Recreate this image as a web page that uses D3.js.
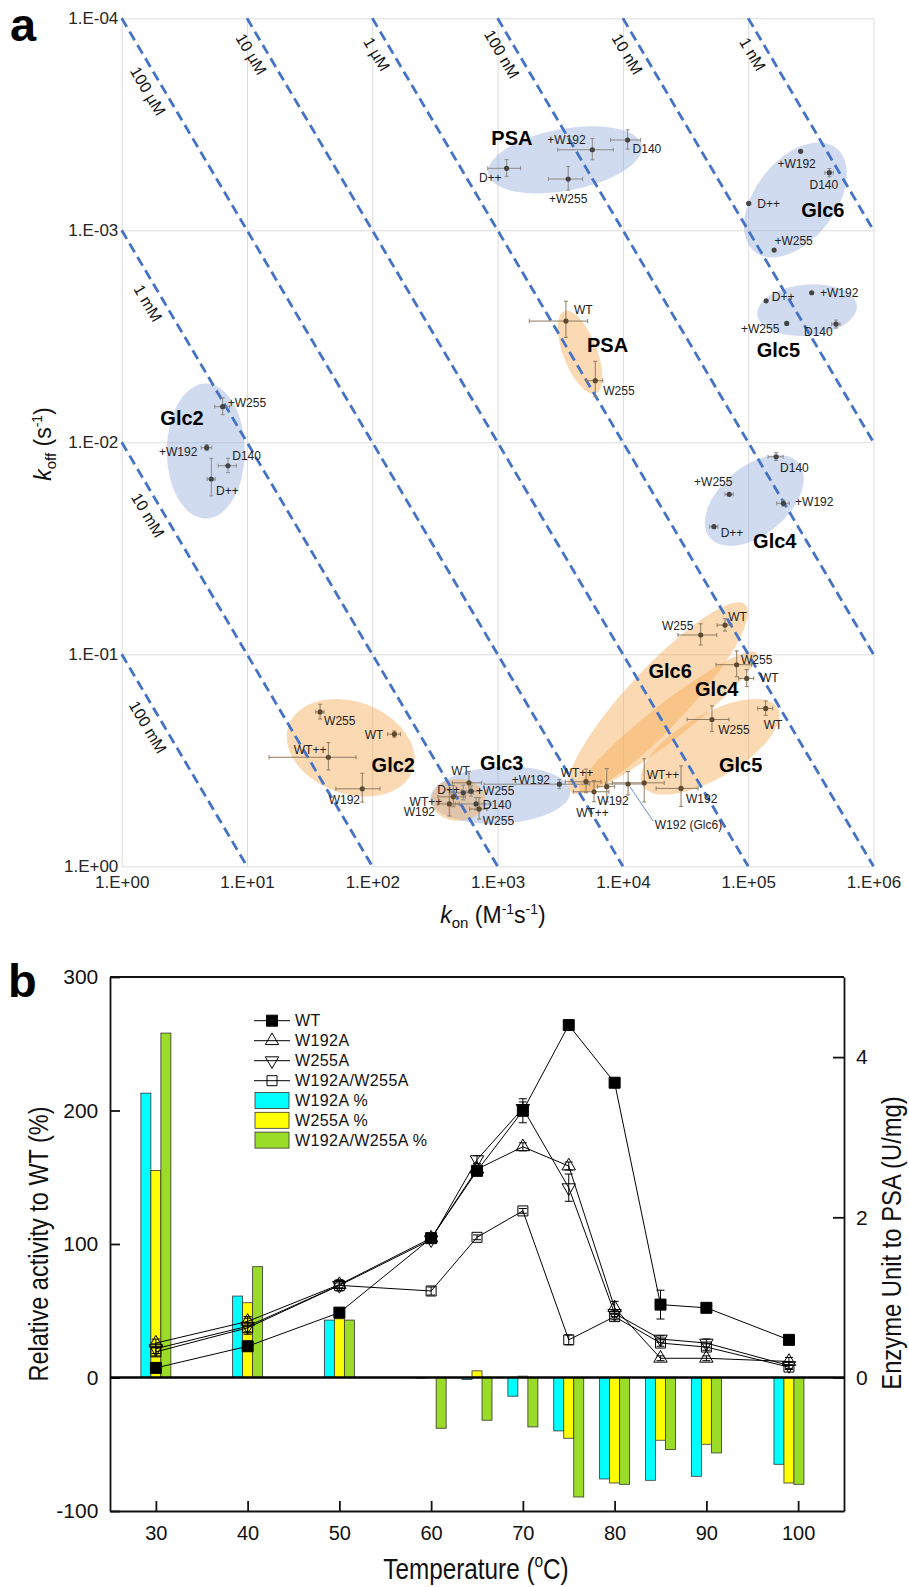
<!DOCTYPE html>
<html>
<head>
<meta charset="utf-8">
<script src="https://cdn.jsdelivr.net/npm/d3@7"></script>
<style>
  body { margin: 0; background: #fff; }
  svg { display: block; font-family: "Liberation Sans", Arial, Helvetica, sans-serif; }
</style>
</head>
<body>
<div id="main"></div>
<script>
/* ================= panel a : kon / koff map ================= */
const konTicks  = [1, 1e1, 1e2, 1e3, 1e4, 1e5, 1e6];
const koffTicks = [1e-4, 1e-3, 1e-2, 1e-1, 1];
const kdValues  = [1e-1, 1e-2, 1e-3, 1e-4, 1e-5, 1e-6, 1e-7, 1e-8, 1e-9];
const kdLabels  = ["100 mM", "10 mM", "1 mM", "100 µM", "10 µM", "1 µM", "100 nM", "10 nM", "1 nM"];

// b = with ligand (blue), o = free enzyme (orange)
const ptSet = ["b","b","b","b","b","b","b","b","b","b","b","b","b","b","b","b","b","b","b","b","b","b","b","b",
               "o","o","o","o","o","o","o","o","o","o","o","o","o","o","o","o","o","o","o","o","o","o"];
const ptLabel = ["D++","+W192","D140","+W255", "+W192","D140","D++","+W255", "D++","+W192","+W255","D140",
                 "D140","+W255","+W192","D++", "+W255","+W192","D140","D++", "D++","+W255","D140","+W192",
                 "WT","W255", "W255","WT","WT++","W192", "WT","WT++","W192","W255",
                 "WT","W255","WT++","W192 (Glc6)", "WT","W255","WT++","W192", "WT","W255","WT++","W192"];
const kon = [1180, 5700, 10900, 3660, 2.62e5, 4.44e5, 1.01e5, 1.61e5, 1.39e5, 3.21e5, 2.03e5, 5.02e5,
             1.67e5, 7.06e4, 1.91e5, 5.33e4, 6.40, 4.77, 7.05, 5.19, 532, 614, 673, 3110,
             3510, 6020, 38.3, 150, 44.6, 83.2, 591, 443, 412, 711,
             6.53e4, 4.18e4, 5080, 1.10e4, 9.73e4, 8.09e4, 5880, 7430, 1.38e5, 5.14e4, 1.48e4, 2.91e4];
const koff = [5.10e-4, 4.17e-4, 3.75e-4, 5.73e-4, 4.24e-4, 5.35e-4, 7.47e-4, 1.24e-3, 2.15e-3, 1.97e-3, 2.75e-3, 2.77e-3,
              1.17e-2, 1.76e-2, 1.94e-2, 2.50e-2, 6.79e-3, 1.06e-2, 1.29e-2, 1.49e-2, 0.450, 0.442, 0.508, 0.410,
              2.68e-3, 5.12e-3, 0.187, 0.238, 0.306, 0.431, 0.404, 0.470, 0.508, 0.537,
              7.28e-2, 8.11e-2, 0.399, 0.409, 0.130, 0.112, 0.445, 0.421, 0.180, 0.203, 0.404, 0.429];
const konErr = [346, 2680, 2940, 1120, 0, 3.4e4, 0, 0, 0, 0, 0, 3.8e4,
                2.3e4, 5400, 2.2e4, 4000, 0.88, 0.46, 1.16, 0.39, 106, 102, 213, 2330,
                1720, 890, 2.9, 17.6, 29.6, 32, 155, 109, 82, 112,
                8900, 1.43e4, 1610, 3760, 1.33e4, 2.56e4, 1860, 1170, 1.89e4, 1.89e4, 6570, 1.07e4];
const koffErr = [4.6e-5, 4.8e-5, 3.9e-5, 7.3e-5, 0, 2.4e-5, 0, 0, 0, 0, 0, 1.2e-4,
                 5e-4, 0, 6.4e-4, 0, 6.2e-4, 3.5e-4, 1.0e-3, 3.0e-3, 0.036, 0.025, 0.034, 0.02,
                 5.2e-4, 9.7e-4, 0.015, 0.008, 0.045, 0.067, 0.046, 0.054, 0.071, 0.062,
                 4.9e-3, 9.3e-3, 0.051, 0.052, 0.012, 0.0156, 0.051, 0.075, 0.014, 0.028, 0.093, 0.093];

// where each point label sits: anchor, dx, dy(baseline)
const ptLabelPos = [
  ["end",-5,13.3],["end",-6.6,-5.9],["start",5,12.6],["middle",0,24],
  ["middle",-4,17],["middle",-5.5,16.6],["start",8.6,4.8],["start",0.3,-5],
  ["start",5.7,0.3],["start",8.3,4.6],["end",-7.4,9.3],["end",-3.3,12],
  ["start",4,15.6],["middle",-16,-8],["start",11.7,2.3],["start",6.7,10.1],
  ["start",5,0.6],["end",-9.4,8],["start",4.3,-5.4],["start",4.7,16.3],
  ["end",-3.3,1],["start",5,4.3],["start",6.7,5.3],["end",-9.3,0],
  ["start",8,-7],["start",8,14.4],
  ["start",4,13.4],["end",-11,5],["middle",-18.3,-3.3],["end",-2.3,15],
  ["middle",-8.5,-8.1],["end",-11,9.5],["end",-14.3,12.5],["start",3.7,15.8],
  ["start",3.3,-3.7],["end",-7.4,-5.4],["middle",-9,-4.6],["start",26.7,45.3],
  ["start",13.3,3.7],["start",4.3,-1],["middle",-1.5,25.5],["middle",6.3,18.5],
  ["middle",7.3,20.7],["start",6.3,14.7],["start",2.4,-3.7],["start",5,14.7]
];

// shaded groups: set, centre kon, centre koff, rx, ry, angle
const regions = [
  ["b", 3.45e3, 4.65e-4, 78, 31, -10.5],
  ["b", 2.38e5, 7.19e-4, 66, 40, -52],
  ["b", 2.95e5, 2.38e-3, 50, 25.5, -5],
  ["b", 1.12e5, 1.88e-2, 58, 34, -40],
  ["b", 4.69, 1.10e-2, 39, 67.5, 0],
  ["b", 1.05e3, 0.462, 70, 28.5, -3],
  ["o", 4.55e3, 3.76e-3, 44, 17, 69],
  ["o", 67.2, 0.276, 66, 46, 20],
  ["o", 486, 0.486, 27, 21, 0],
  ["o", 1.91e4, 0.161, 128, 30, -47],
  ["o", 2.29e4, 0.208, 112, 18, -38],
  ["o", 4.96e4, 0.273, 78, 32, -30]
];
const groupNames = [
  ["PSA", 1.30e3, 3.94e-4], ["Glc6", 3.94e5, 8.65e-4], ["Glc5", 1.74e5, 3.96e-3],
  ["Glc4", 1.63e5, 3.16e-2], ["Glc2", 3.03, 8.28e-3], ["Glc3", 1.08e3, 0.353],
  ["PSA", 7.54e3, 3.75e-3], ["Glc2", 147, 0.359], ["Glc6", 2.38e4, 0.130],
  ["Glc4", 5.61e4, 0.158], ["Glc5", 8.71e4, 0.359]
];

/* ================= panel b : temperature profile ================= */
const temps = [30, 40, 50, 60, 65, 70, 75, 80, 85, 90, 99];
const tempTicks = [30, 40, 50, 60, 70, 80, 90, 100];
const pctTicks = [-100, 0, 100, 200, 300];
const unitTicks = [0, 2, 4];
// enzyme units (U/mg), right axis
const uWT     = [0.12, 0.39, 0.81, 1.74, 2.58, 3.33, 4.40, 3.68, 0.91, 0.87, 0.47];
const uW192A  = [0.43, 0.70, 1.16, 1.74, 2.60, 2.88, 2.64, 0.87, 0.24, 0.24, 0.20];
const uW255A  = [0.36, 0.64, 1.15, 1.72, 2.72, 3.36, 2.37, 0.80, 0.48, 0.43, 0.15];
const uDouble = [0.32, 0.62, 1.15, 1.08, 1.75, 2.08, 0.47, 0.76, 0.43, 0.38, 0.13];
const eWT     = [0.04, 0.05, 0.03, 0.03, 0.05, 0.15, 0.02, 0.02, 0.18, 0.03, 0.03];
const eW192A  = [0.05, 0.06, 0.05, 0.03, 0.05, 0.05, 0.05, 0.08, 0.03, 0.03, 0.05];
const eW255A  = [0.06, 0.10, 0.07, 0.04, 0.05, 0.08, 0.17, 0.04, 0.04, 0.05, 0.04];
const eDouble = [0.05, 0.05, 0.03, 0.05, 0.03, 0.03, 0.06, 0.04, 0.04, 0.04, 0.03];
// relative activity to WT (%), left axis
const pctW192A  = [213, 61, 43, -0.5, -1.5, -14, -40, -76, -77, -74, -65];
const pctW255A  = [155, 56, 44, 0, 5, 1, -45.5, -79, -47, -50, -79];
const pctDouble = [258, 83, 43, -38, -32, -37, -89.5, -80, -54, -56.5, -80];
const lineNames = ["WT", "W192A", "W255A", "W192A/W255A"];
const barNames  = ["W192A %", "W255A %", "W192A/W255A %"];

const FONT = '"Liberation Sans", Arial, Helvetica, sans-serif';
const svg = d3.select("#main").append("svg").attr("width", 909).attr("height", 1587);

/* ---------------- panel a ---------------- */
const ax = d3.scaleLog().domain([1, 1e6]).range([121.7, 873.5]);
const ay = d3.scaleLog().domain([1e-4, 1]).range([18.3, 866.3]);
const ga = svg.append("g");
const fmtE = v => {
  const e = Math.round(Math.log10(v));
  return "1.E" + (e < 0 ? "-" : "+") + String(Math.abs(e)).padStart(2, "0");
};

const gX = ga.append("g").attr("transform", "translate(0," + ay.range()[1] + ")")
  .call(d3.axisBottom(ax).tickValues(konTicks).tickFormat(fmtE)
    .tickSize(-(ay.range()[1] - ay.range()[0])).tickPadding(9.5));
const gY = ga.append("g").attr("transform", "translate(" + ax.range()[0] + ",0)")
  .call(d3.axisLeft(ay).tickValues(koffTicks).tickFormat(fmtE)
    .tickSize(-(ax.range()[1] - ax.range()[0])).tickPadding(3.4));
[gX, gY].forEach(g => {
  g.select(".domain").remove();
  g.attr("font-size", 17).attr("font-family", FONT);
  g.selectAll("line").attr("stroke", "#dcdcdc");
  g.selectAll("text").attr("fill", "#262626");
});

// shaded groups
const fillOf = s => s === "b" ? "rgba(143,170,220,0.42)" : "rgba(247,170,85,0.45)";
ga.append("g").selectAll("ellipse").data(regions).join("ellipse")
  .attr("cx", d => ax(d[1])).attr("cy", d => ay(d[2]))
  .attr("rx", d => d[3]).attr("ry", d => d[4])
  .attr("transform", d => "rotate(" + d[5] + "," + ax(d[1]) + "," + ay(d[2]) + ")")
  .attr("fill", d => fillOf(d[0]));

// iso-affinity lines koff = KD * kon
const kd = kdValues.map((K, i) => {
  const k0 = Math.max(1, 1e-4 / K), k1 = Math.min(1e6, 1 / K);
  const x0 = ax(k0), y0 = ay(K * k0), x1 = ax(k1), y1 = ay(K * k1);
  return { K, label: kdLabels[i], x0, y0, x1, y1, fromLeft: k0 === 1 };
});
ga.append("g").selectAll("line").data(kd).join("line")
  .attr("x1", d => d.x0).attr("y1", d => d.y0).attr("x2", d => d.x1).attr("y2", d => d.y1)
  .attr("stroke", "#4472C4").attr("stroke-width", 2.8).attr("stroke-dasharray", "10,5.5");
ga.append("g").selectAll("text").data(kd).join("text")
  .attr("transform", d => {
    const a = Math.atan2(d.y1 - d.y0, d.x1 - d.x0);
    const along = d.fromLeft ? 76 : 33, perp = 14.5;
    const px = d.x0 + along * Math.cos(a) - perp * Math.sin(a);
    const py = d.y0 + along * Math.sin(a) + perp * Math.cos(a);
    return "translate(" + px + "," + py + ") rotate(" + (a * 180 / Math.PI) + ")";
  })
  .attr("text-anchor", "middle").attr("dy", "0.35em").attr("font-size", 16).attr("fill", "#111")
  .text(d => d.label);

// error bars and points
const pts = kon.map((k, i) => ({
  k, f: koff[i], ke: konErr[i], fe: koffErr[i], set: ptSet[i], label: ptLabel[i], pos: ptLabelPos[i]
}));
const eb = ga.append("g").attr("stroke-width", 1);
pts.forEach(p => {
  const col = p.set === "b" ? "#8a8a8a" : "#8f7c62";
  const cx = ax(p.k), cy = ay(p.f);
  if (p.ke > 0) {
    const xa = ax(Math.max(p.k - p.ke, 1e-3)), xb = ax(p.k + p.ke);
    eb.append("line").attr("x1", xa).attr("x2", xb).attr("y1", cy).attr("y2", cy).attr("stroke", col);
    [xa, xb].forEach(x => eb.append("line").attr("x1", x).attr("x2", x).attr("y1", cy - 2).attr("y2", cy + 2).attr("stroke", col));
  }
  if (p.fe > 0) {
    const ya = ay(Math.max(p.f - p.fe, 1e-9)), yb = ay(p.f + p.fe);
    eb.append("line").attr("x1", cx).attr("x2", cx).attr("y1", ya).attr("y2", yb).attr("stroke", col);
    [ya, yb].forEach(y => eb.append("line").attr("x1", cx - 2).attr("x2", cx + 2).attr("y1", y).attr("y2", y).attr("stroke", col));
  }
});
// leader for the W192 (Glc6) label
pts.filter(p => p.label.indexOf("(") > 0).forEach(p => {
  ga.append("line").attr("x1", ax(p.k) + 2).attr("y1", ay(p.f) + 3)
    .attr("x2", ax(p.k) + 25).attr("y2", ay(p.f) + 37)
    .attr("stroke", "#4472C4").attr("stroke-width", 0.8);
});
ga.append("g").selectAll("circle").data(pts).join("circle")
  .attr("cx", d => ax(d.k)).attr("cy", d => ay(d.f)).attr("r", 2.6)
  .attr("fill", d => d.set === "b" ? "#444" : "#5e4a30");
ga.append("g").selectAll("text").data(pts).join("text")
  .attr("x", d => ax(d.k) + d.pos[1]).attr("y", d => ay(d.f) + d.pos[2])
  .attr("text-anchor", d => d.pos[0]).attr("font-size", 12).attr("fill", "#222")
  .text(d => d.label);
ga.append("g").selectAll("text").data(groupNames).join("text")
  .attr("x", d => ax(d[1])).attr("y", d => ay(d[2]))
  .attr("text-anchor", "middle").attr("font-size", 20).attr("font-weight", "bold").attr("fill", "#000")
  .text(d => d[0]);

// axis titles panel a
const kt = ga.append("text").attr("x", 493).attr("y", 923).attr("text-anchor", "middle").attr("font-size", 23).attr("fill", "#111");
kt.append("tspan").attr("font-style", "italic").text("k");
kt.append("tspan").attr("font-size", 15).attr("dy", 5).text("on");
kt.append("tspan").attr("dy", -5).text(" (M");
kt.append("tspan").attr("font-size", 14).attr("dy", -9).text("-1");
kt.append("tspan").attr("dy", 9).text("s");
kt.append("tspan").attr("font-size", 14).attr("dy", -9).text("-1");
kt.append("tspan").attr("dy", 9).text(")");
const ft = ga.append("text").attr("transform", "translate(51,444) rotate(-90)").attr("text-anchor", "middle").attr("font-size", 23).attr("fill", "#111");
ft.append("tspan").attr("font-style", "italic").text("k");
ft.append("tspan").attr("font-size", 15).attr("dy", 5).text("off");
ft.append("tspan").attr("dy", -5).text(" (s");
ft.append("tspan").attr("font-size", 14).attr("dy", -9).text("-1");
ft.append("tspan").attr("dy", 9).text(")");

svg.append("text").attr("x", 10).attr("y", 41).attr("font-size", 47).attr("font-weight", "bold").text("a");
svg.append("text").attr("x", 8).attr("y", 997).attr("font-size", 47).attr("font-weight", "bold").text("b");

/* ---------------- panel b ---------------- */
const bx  = d3.scaleLinear().domain([25, 105]).range([110, 844]);
const byL = d3.scaleLinear().domain([-100, 300]).range([1511, 977]);
const byR = d3.scaleLinear().domain([-100 / 60, 5]).range([1511, 977]);
const gb = svg.append("g");

const barSeries = [pctW192A, pctW255A, pctDouble];
const barColors = ["#00ffff", "#ffff00", "#9bdc28"];
barSeries.forEach((vals, s) => {
  gb.append("g").selectAll("rect").data(vals).join("rect")
    .attr("x", (d, i) => bx(temps[i]) - 15 + 10 * s)
    .attr("width", 10)
    .attr("y", d => byL(Math.max(d, 0)))
    .attr("height", d => Math.abs(byL(d) - byL(0)))
    .attr("fill", barColors[s]).attr("stroke", "#333").attr("stroke-width", 0.8);
});

// axes
const plain = d => String(d);
const gL = gb.append("g").attr("transform", "translate(110,0)")
  .call(d3.axisLeft(byL).tickValues(pctTicks).tickFormat(plain).tickSize(-10).tickSizeOuter(0).tickPadding(11.7));
const gR = gb.append("g").attr("transform", "translate(844,0)")
  .call(d3.axisRight(byR).tickValues(unitTicks).tickFormat(plain).tickSize(-11).tickSizeOuter(0).tickPadding(12));
const gB = gb.append("g").attr("transform", "translate(0,1511)")
  .call(d3.axisBottom(bx).tickValues(tempTicks).tickFormat(plain).tickSize(-10).tickSizeOuter(0).tickPadding(14.8));
[gL, gR, gB].forEach(g => {
  g.attr("font-family", FONT).attr("font-size", 21);
  g.selectAll("path, line").attr("stroke", "#111").attr("stroke-width", 1.8);
  g.selectAll("text").attr("fill", "#111");
});
gB.attr("font-size", 20);
gb.append("line").attr("x1", 110).attr("x2", 844).attr("y1", 977).attr("y2", 977).attr("stroke", "#111").attr("stroke-width", 1.8);
gb.append("line").attr("x1", 110).attr("x2", 844).attr("y1", byL(0)).attr("y2", byL(0)).attr("stroke", "#000").attr("stroke-width", 2.4);

// line series
const series = [
  { vals: uWT, err: eWT, sym: d3.symbolSquare, size: 121, fill: "#000", rot: 0 },
  { vals: uW192A, err: eW192A, sym: d3.symbolTriangle, size: 78, fill: "none", rot: 0 },
  { vals: uW255A, err: eW255A, sym: d3.symbolTriangle, size: 78, fill: "none", rot: 180 },
  { vals: uDouble, err: eDouble, sym: d3.symbolSquare, size: 100, fill: "none", rot: 0 }
];
const line = d3.line().x((d, i) => bx(temps[i])).y(d => byR(d));
const drawOrder = [3, 2, 1, 0];
drawOrder.forEach(si => {
  const s = series[si];
  const g = gb.append("g");
  g.append("path").attr("d", line(s.vals)).attr("fill", "none").attr("stroke", "#000").attr("stroke-width", 1);
  s.vals.forEach((v, i) => {
    const x = bx(temps[i]);
    const ya = byR(v - s.err[i]), yb = byR(v + s.err[i]);
    g.append("line").attr("x1", x).attr("x2", x).attr("y1", ya).attr("y2", yb).attr("stroke", "#000").attr("stroke-width", 1);
    [ya, yb].forEach(y => g.append("line").attr("x1", x - 4).attr("x2", x + 4).attr("y1", y).attr("y2", y).attr("stroke", "#000").attr("stroke-width", 1));
  });
  g.selectAll("path.m").data(s.vals).join("path").attr("class", "m")
    .attr("d", d3.symbol().type(s.sym).size(s.size))
    .attr("transform", (d, i) => "translate(" + bx(temps[i]) + "," + byR(d) + ") rotate(" + s.rot + ")")
    .attr("fill", s.fill).attr("stroke", "#000").attr("stroke-width", 1);
});

// legend
const lg = gb.append("g").attr("font-size", 16).attr("fill", "#111");
lineNames.forEach((n, i) => {
  const y = 1020.7 + 20 * i, s = series[i];
  lg.append("line").attr("x1", 254).attr("x2", 290).attr("y1", y).attr("y2", y).attr("stroke", "#000");
  lg.append("path").attr("d", d3.symbol().type(s.sym).size(s.size))
    .attr("transform", "translate(272," + y + ") rotate(" + s.rot + ")")
    .attr("fill", s.fill).attr("stroke", "#000");
  lg.append("text").attr("x", 295).attr("y", y).attr("dy", "0.36em").attr("letter-spacing", 0.4).text(n);
});
barNames.forEach((n, i) => {
  const y = 1100.5 + 19.8 * i;
  lg.append("rect").attr("x", 255).attr("y", y - 8).attr("width", 34).attr("height", 16)
    .attr("fill", barColors[i]).attr("stroke", "#333").attr("stroke-width", 0.8);
  lg.append("text").attr("x", 295).attr("y", y).attr("dy", "0.36em").attr("letter-spacing", 0.4).text(n);
});

// titles panel b (narrow lettering)
gb.append("text").attr("transform", "translate(48,1244) rotate(-90) scale(0.84,1)")
  .attr("text-anchor", "middle").attr("font-size", 28).attr("fill", "#111").text("Relative activity to WT (%)");
gb.append("text").attr("transform", "translate(901,1243) rotate(-90) scale(0.85,1)")
  .attr("text-anchor", "middle").attr("font-size", 28).attr("fill", "#111").text("Enzyme Unit to PSA (U/mg)");
const tt = gb.append("text").attr("transform", "translate(476,1579) scale(0.81,1)")
  .attr("text-anchor", "middle").attr("font-size", 30).attr("fill", "#111");
tt.append("tspan").text("Temperature (");
tt.append("tspan").attr("font-size", 19).attr("dy", -12).text("o");
tt.append("tspan").attr("dy", 12).text("C)");
</script>
</body>
</html>
